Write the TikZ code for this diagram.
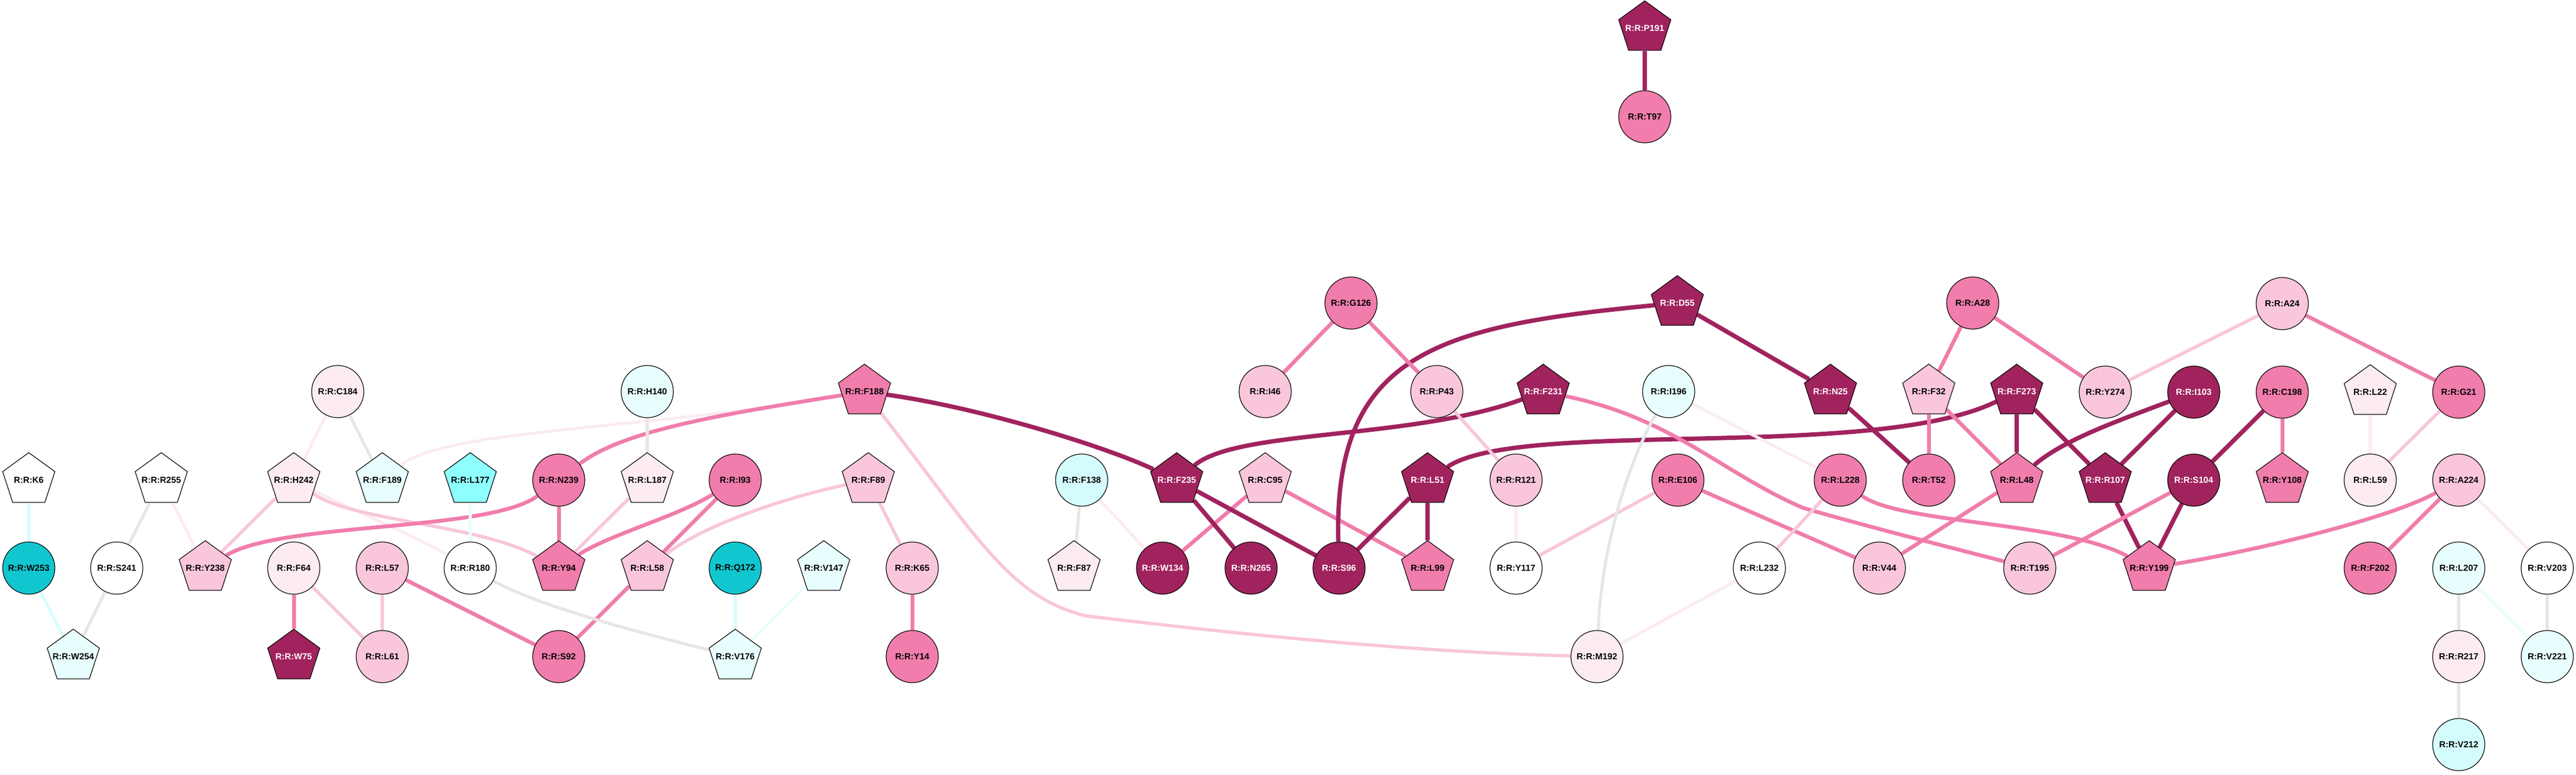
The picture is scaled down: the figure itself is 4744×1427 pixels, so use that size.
\documentclass[tikz,border=0pt]{standalone}
\usepackage{fontspec}
\setmainfont{Liberation Sans}
\usetikzlibrary{shapes.geometric,backgrounds}
\definecolor{cDark}{HTML}{A0235E}
\definecolor{cMed}{HTML}{F07DAB}
\definecolor{cLight}{HTML}{F9C6DB}
\definecolor{cVLight}{HTML}{FCEBF3}
\definecolor{cCyanVL}{HTML}{E8FEFE}
\definecolor{cCyanL}{HTML}{D4FCFD}
\definecolor{cCyan}{HTML}{8DFFFE}
\definecolor{cTeal}{HTML}{12C6D0}
\definecolor{cGrey}{HTML}{E6E6E6}
\definecolor{eCyanL}{HTML}{D8FDFD}
\newcommand{\zb}[1]{\makebox[0pt]{#1}}
\begin{document}
\begin{tikzpicture}[x=0.01cm,y=-0.01cm,
  nd/.style={draw=black, line width=0.35pt, inner sep=0pt, text=black,
    font=\bfseries\fontsize{4.6}{5}\selectfont},
  circ/.style={nd, circle, minimum size=0.96cm},
  pent/.style={nd, regular polygon, regular polygon sides=5, minimum size=1.01cm},
  fD/.style={fill=cDark, text=white},
  fM/.style={fill=cMed},
  fL/.style={fill=cLight},
  fV/.style={fill=cVLight},
  fW/.style={fill=white},
  fCV/.style={fill=cCyanVL},
  fCL/.style={fill=cCyanL},
  fC/.style={fill=cCyan},
  fT/.style={fill=cTeal},
  eD/.style={draw=cDark, line width=0.08cm},
  eM/.style={draw=cMed, line width=0.07cm},
  eL/.style={draw=cLight, line width=0.06cm},
  eV/.style={draw=cVLight, line width=0.055cm},
  eG/.style={draw=cGrey, line width=0.055cm},
  eC/.style={draw=eCyanL, line width=0.055cm},
  eCV/.style={draw=cCyanVL, line width=0.055cm}
]
\useasboundingbox (0,0) rectangle (4744,1427);
% row 52 / 215
\node[pent,fD] (P191) at (3029,52) {\zb{R:R:P191}};
\node[circ,fM] (T97) at (3029,215) {R:R:T97};
% row 558
\node[circ,fM] (G126) at (2488,558) {R:R:G126};
\node[pent,fD] (D55) at (3089,558) {\zb{R:R:D55}};
\node[circ,fM] (A28) at (3633,558) {R:R:A28};
\node[circ,fL] (A24) at (4203,559) {R:R:A24};
% row 721
\node[circ,fV] (C184) at (622,721) {R:R:C184};
\node[circ,fCV] (H140) at (1192,721) {R:R:H140};
\node[pent,fM] (F188) at (1592,721) {\zb{R:R:F188}};
\node[circ,fL] (I46) at (2330,721) {R:R:I46};
\node[circ,fL] (P43) at (2646,721) {R:R:P43};
\node[pent,fD] (F231) at (2842,721) {\zb{R:R:F231}};
\node[circ,fCV] (I196) at (3073,721) {R:R:I196};
\node[pent,fD] (N25) at (3371,721) {\zb{R:R:N25}};
\node[pent,fL] (F32) at (3552,721) {\zb{R:R:F32}};
\node[pent,fD] (F273) at (3714,721) {\zb{R:R:F273}};
\node[circ,fL] (Y274) at (3877,722) {R:R:Y274};
\node[circ,fD] (I103) at (4040,722) {R:R:I103};
\node[circ,fM] (C198) at (4203,722) {R:R:C198};
\node[pent,fV] (L22) at (4365,722) {\zb{R:R:L22}};
\node[circ,fM] (G21) at (4528,722) {R:R:G21};
% row 884
\node[pent,fW] (K6) at (53,884) {\zb{R:R:K6}};
\node[pent,fW] (R255) at (297,884) {\zb{R:R:R255}};
\node[pent,fV] (H242) at (541,884) {\zb{R:R:H242}};
\node[pent,fCV] (F189) at (704,884) {\zb{R:R:F189}};
\node[pent,fC] (L177) at (866,884) {\zb{R:R:L177}};
\node[circ,fM] (N239) at (1029,884) {R:R:N239};
\node[pent,fV] (L187) at (1192,884) {\zb{R:R:L187}};
\node[circ,fM] (I93) at (1354,884) {R:R:I93};
\node[pent,fL] (F89) at (1599,884) {\zb{R:R:F89}};
\node[circ,fCL] (F138) at (1992,884) {R:R:F138};
\node[pent,fD] (F235) at (2167,884) {\zb{R:R:F235}};
\node[pent,fL] (C95) at (2330,884) {\zb{R:R:C95}};
\node[pent,fD] (L51) at (2629,884) {\zb{R:R:L51}};
\node[circ,fL] (R121) at (2792,884) {R:R:R121};
\node[circ,fM] (E106) at (3090,884) {R:R:E106};
\node[circ,fM] (L228) at (3389,884) {R:R:L228};
\node[circ,fM] (T52) at (3552,884) {R:R:T52};
\node[pent,fM] (L48) at (3714,884) {\zb{R:R:L48}};
\node[pent,fD] (R107) at (3877,884) {\zb{R:R:R107}};
\node[circ,fD] (S104) at (4040,884) {R:R:S104};
\node[pent,fM] (Y108) at (4203,884) {\zb{R:R:Y108}};
\node[circ,fV] (L59) at (4365,884) {R:R:L59};
\node[circ,fL] (A224) at (4528,884) {R:R:A224};
% row 1046
\node[circ,fT] (W253) at (53,1046) {R:R:W253};
\node[circ,fW] (S241) at (215,1046) {R:R:S241};
\node[pent,fL] (Y238) at (378,1046) {\zb{R:R:Y238}};
\node[circ,fV] (F64) at (541,1046) {R:R:F64};
\node[circ,fL] (L57) at (704,1046) {R:R:L57};
\node[circ,fW] (R180) at (866,1046) {R:R:R180};
\node[pent,fM] (Y94) at (1029,1046) {\zb{R:R:Y94}};
\node[pent,fL] (L58) at (1192,1046) {\zb{R:R:L58}};
\node[circ,fT] (Q172) at (1354,1046) {R:R:Q172};
\node[pent,fCV] (V147) at (1517,1046) {\zb{R:R:V147}};
\node[circ,fL] (K65) at (1680,1046) {R:R:K65};
\node[pent,fV] (F87) at (1978,1046) {\zb{R:R:F87}};
\node[circ,fD] (W134) at (2141,1046) {R:R:W134};
\node[circ,fD] (N265) at (2304,1046) {R:R:N265};
\node[circ,fD] (S96) at (2466,1046) {R:R:S96};
\node[pent,fM] (L99) at (2629,1046) {\zb{R:R:L99}};
\node[circ,fW] (Y117) at (2792,1046) {R:R:Y117};
\node[circ,fW] (L232) at (3240,1046) {R:R:L232};
\node[circ,fL] (V44) at (3461,1046) {R:R:V44};
\node[circ,fL] (T195) at (3738,1046) {R:R:T195};
\node[pent,fM] (Y199) at (3958,1046) {\zb{R:R:Y199}};
\node[circ,fM] (F202) at (4365,1046) {R:R:F202};
\node[circ,fCV] (L207) at (4528,1046) {R:R:L207};
\node[circ,fW] (V203) at (4691,1046) {R:R:V203};
% row 1209
\node[pent,fCV] (W254) at (135,1209) {\zb{R:R:W254}};
\node[pent,fD] (W75) at (541,1209) {\zb{R:R:W75}};
\node[circ,fL] (L61) at (704,1209) {R:R:L61};
\node[circ,fM] (S92) at (1029,1209) {R:R:S92};
\node[pent,fCV] (V176) at (1354,1209) {\zb{R:R:V176}};
\node[circ,fM] (Y14) at (1680,1209) {R:R:Y14};
\node[circ,fV] (M192) at (2941,1209) {R:R:M192};
\node[circ,fV] (R217) at (4528,1209) {R:R:R217};
\node[circ,fCV] (V221) at (4691,1209) {R:R:V221};
% row 1371
\node[circ,fCL] (V212) at (4528,1371) {R:R:V212};

\begin{pgfonlayer}{background}
% left cluster
\draw[eC] (K6) -- (W253);
\draw[eC] (W253) -- (W254);
\draw[eG] (R255) -- (S241);
\draw[eG] (S241) -- (W254);
\draw[eV] (R255) -- (Y238);
\draw[eV] (C184) -- (H242);
\draw[eG] (C184) -- (F189);
\draw[eL] (H242) -- (Y238);
\draw[eV] (H242) .. controls (640,935) and (760,985) .. (R180);
\draw[eL] (H242) .. controls (650,960) and (880,965) .. (Y94);
\draw[eM] (Y238) .. controls (520,960) and (900,980) .. (N239);
\draw[eV] (F189) .. controls (820,790) and (1200,790) .. (F188);
\draw[eM] (F188) .. controls (1350,760) and (1150,790) .. (N239);
\draw[eM] (F64) -- (W75);
\draw[eL] (F64) -- (L61);
\draw[eL] (L57) -- (L61);
\draw[eM] (L57) -- (S92);
\draw[eCV] (L177) -- (R180);
\draw[eG] (H140) -- (L187);
\draw[eM] (N239) -- (Y94);
\draw[eL] (L187) -- (Y94);
\draw[eM] (I93) .. controls (1250,950) and (1120,985) .. (Y94);
\draw[eM] (I93) -- (L58);
\draw[eL] (F89) .. controls (1450,915) and (1300,965) .. (L58);
\draw[eM] (L58) -- (S92);
\draw[eG] (R180) .. controls (1000,1120) and (1200,1170) .. (V176);
\draw[eC] (Q172) -- (V176);
\draw[eCV] (V147) -- (V176);
\draw[eL] (F89) -- (K65);
\draw[eM] (K65) -- (Y14);
% middle
\draw[eD] (F188) .. controls (1800,750) and (2030,820) .. (F235);
\draw[eL] (F188) .. controls (1800,990) and (1860,1100) .. (2000,1134)
   .. controls (2300,1170) and (2600,1200) .. (M192);
\draw[eG] (F138) -- (F87);
\draw[eV] (F138) -- (W134);
\draw[eM] (C95) -- (W134);
\draw[eD] (F235) -- (N265);
\draw[eD] (F235) -- (S96);
\draw[eD] (F235) .. controls (2280,790) and (2600,810) .. (F231);
\draw[eM] (C95) -- (L99);
\draw[eD] (L51) -- (S96);
\draw[eD] (L51) -- (L99);
\draw[eD] (L51) .. controls (2800,770) and (3450,850) .. (F273);
\draw[eD] (S96) .. controls (2455,650) and (2650,600) .. (D55);
\draw[eM] (G126) -- (I46);
\draw[eM] (G126) -- (P43);
\draw[eL] (P43) -- (R121);
\draw[eV] (R121) -- (Y117);
\draw[eL] (E106) -- (Y117);
\draw[eM] (E106) -- (V44);
\draw[eM] (F231) .. controls (3080,770) and (3170,870) .. (3320,935)
   .. controls (3440,970) and (3600,1010) .. (T195);
\draw[eG] (I196) .. controls (3000,850) and (2950,1000) .. (M192);
\draw[eV] (I196) -- (L228);
\draw[eV] (L232) -- (M192);
\draw[eL] (L228) -- (L232);
\draw[eM] (L228) .. controls (3500,965) and (3800,960) .. (Y199);
\draw[eD] (D55) -- (N25);
\draw[eD] (N25) -- (T52);
% right
\draw[eD] (P191) -- (T97);
\draw[eM] (A28) -- (F32);
\draw[eM] (A28) -- (Y274);
\draw[eM] (F32) -- (T52);
\draw[eM] (F32) -- (L48);
\draw[eD] (F273) -- (L48);
\draw[eD] (F273) -- (R107);
\draw[eD] (I103) .. controls (3900,775) and (3800,810) .. (L48);
\draw[eD] (I103) -- (R107);
\draw[eM] (L48) -- (V44);
\draw[eD] (R107) -- (Y199);
\draw[eD] (S104) -- (Y199);
\draw[eM] (T195) -- (S104);
\draw[eD] (C198) -- (S104);
\draw[eM] (C198) -- (Y108);
\draw[eL] (A24) -- (Y274);
\draw[eM] (A24) -- (G21);
\draw[eL] (G21) -- (L59);
\draw[eV] (L22) -- (L59);
\draw[eM] (A224) .. controls (4400,955) and (4150,1015) .. (Y199);
\draw[eM] (A224) -- (F202);
\draw[eV] (A224) -- (V203);
\draw[eG] (L207) -- (R217);
\draw[eCV] (L207) -- (V221);
\draw[eG] (V203) -- (V221);
\draw[eG] (R217) -- (V212);
\end{pgfonlayer}
\end{tikzpicture}
\end{document}
